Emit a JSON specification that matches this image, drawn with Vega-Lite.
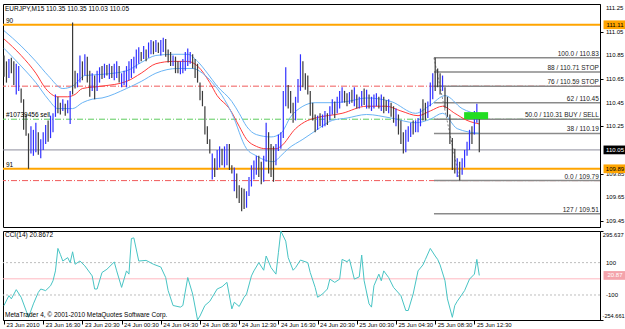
{
"$schema":"https://vega.github.io/schema/vega-lite/v6.json",
"background":"white",
"padding":{"left":1,"top":3,"right":0,"bottom":0},
"spacing":0,
"config":{
 "view":{"stroke":"#000","strokeWidth":1},
 "axis":{"labelFont":"Liberation Sans","labelFontSize":6,"labelColor":"#000","domainColor":"#000","tickColor":"#000","grid":false,"labelOverlap":false,"tickSize":3,"labelPadding":1},
 "text":{"font":"Liberation Sans","fontSize":7}
},
"datasets":{
 "bars":[
{"i":0,"h":110.85,"l":110.67,"u":0},{"i":1,"h":110.80,"l":110.62,"u":0},{"i":2,"h":110.82,"l":110.66,"u":1},{"i":3,"h":110.83,"l":110.70,"u":0},{"i":4,"h":110.80,"l":110.60,"u":0},
{"i":5,"h":110.78,"l":110.52,"u":1},{"i":6,"h":110.76,"l":110.55,"u":1},{"i":7,"h":110.57,"l":110.45,"u":0},{"i":8,"h":110.48,"l":110.22,"u":0},{"i":9,"h":110.35,"l":110.17,"u":0},
{"i":10,"h":110.19,"l":109.89,"u":0},{"i":11,"h":110.25,"l":110.02,"u":1},{"i":12,"h":110.22,"l":110.00,"u":1},{"i":13,"h":110.28,"l":110.03,"u":1},{"i":14,"h":110.20,"l":110.01,"u":0},
{"i":15,"h":110.14,"l":109.98,"u":1},{"i":16,"h":110.20,"l":110.05,"u":1},{"i":17,"h":110.26,"l":110.10,"u":1},{"i":18,"h":110.30,"l":110.12,"u":0},{"i":19,"h":110.34,"l":110.15,"u":1},
{"i":20,"h":110.36,"l":110.20,"u":1},{"i":21,"h":110.52,"l":110.33,"u":1},{"i":22,"h":110.50,"l":110.36,"u":0},{"i":23,"h":110.45,"l":110.35,"u":0},{"i":24,"h":110.48,"l":110.38,"u":1},
{"i":25,"h":110.44,"l":110.34,"u":0},{"i":26,"h":110.47,"l":110.36,"u":1},{"i":27,"h":110.55,"l":110.27,"u":1},{"i":28,"h":111.13,"l":110.52,"u":0},{"i":29,"h":110.72,"l":110.57,"u":0},
{"i":30,"h":110.70,"l":110.58,"u":1},{"i":31,"h":110.85,"l":110.62,"u":1},{"i":32,"h":110.80,"l":110.64,"u":0},{"i":33,"h":110.86,"l":110.68,"u":1},{"i":34,"h":110.84,"l":110.62,"u":0},
{"i":35,"h":110.72,"l":110.50,"u":0},{"i":36,"h":110.70,"l":110.55,"u":1},{"i":37,"h":110.68,"l":110.48,"u":0},{"i":38,"h":110.72,"l":110.55,"u":1},{"i":39,"h":110.75,"l":110.62,"u":1},
{"i":40,"h":110.76,"l":110.65,"u":0},{"i":41,"h":110.78,"l":110.66,"u":1},{"i":42,"h":110.77,"l":110.68,"u":0},{"i":43,"h":110.78,"l":110.65,"u":1},{"i":44,"h":110.76,"l":110.66,"u":0},
{"i":45,"h":110.78,"l":110.64,"u":1},{"i":46,"h":110.80,"l":110.66,"u":1},{"i":47,"h":110.76,"l":110.62,"u":0},{"i":48,"h":110.70,"l":110.58,"u":1},{"i":49,"h":110.72,"l":110.60,"u":1},
{"i":50,"h":110.76,"l":110.58,"u":1},{"i":51,"h":110.80,"l":110.64,"u":1},{"i":52,"h":110.82,"l":110.66,"u":1},{"i":53,"h":110.84,"l":110.70,"u":1},{"i":54,"h":110.90,"l":110.74,"u":1},
{"i":55,"h":110.92,"l":110.78,"u":1},{"i":56,"h":110.88,"l":110.80,"u":0},{"i":57,"h":110.93,"l":110.82,"u":1},{"i":58,"h":110.90,"l":110.80,"u":0},{"i":59,"h":110.96,"l":110.83,"u":1},
{"i":60,"h":110.98,"l":110.86,"u":1},{"i":61,"h":110.97,"l":110.86,"u":0},{"i":62,"h":110.98,"l":110.88,"u":1},{"i":63,"h":110.96,"l":110.87,"u":0},{"i":64,"h":110.98,"l":110.85,"u":1},
{"i":65,"h":111.00,"l":110.88,"u":1},{"i":66,"h":110.99,"l":110.84,"u":0},{"i":67,"h":110.90,"l":110.79,"u":0},{"i":68,"h":110.88,"l":110.76,"u":0},{"i":69,"h":110.85,"l":110.76,"u":1},
{"i":70,"h":110.84,"l":110.70,"u":0},{"i":71,"h":110.80,"l":110.70,"u":0},{"i":72,"h":110.80,"l":110.69,"u":1},{"i":73,"h":110.82,"l":110.70,"u":1},{"i":74,"h":110.88,"l":110.72,"u":1},
{"i":75,"h":110.91,"l":110.76,"u":1},{"i":76,"h":110.88,"l":110.78,"u":1},{"i":77,"h":110.86,"l":110.74,"u":0},{"i":78,"h":110.82,"l":110.66,"u":0},{"i":79,"h":110.78,"l":110.62,"u":0},
{"i":80,"h":110.62,"l":110.47,"u":0},{"i":81,"h":110.55,"l":110.42,"u":0},{"i":82,"h":110.42,"l":110.18,"u":0},{"i":83,"h":110.25,"l":110.10,"u":0},{"i":84,"h":110.14,"l":110.02,"u":0},
{"i":85,"h":110.02,"l":109.80,"u":1},{"i":86,"h":109.98,"l":109.82,"u":0},{"i":87,"h":110.05,"l":109.88,"u":1},{"i":88,"h":110.08,"l":109.90,"u":1},{"i":89,"h":110.06,"l":109.92,"u":0},
{"i":90,"h":110.08,"l":109.90,"u":1},{"i":91,"h":110.10,"l":109.92,"u":1},{"i":92,"h":110.10,"l":109.88,"u":0},{"i":93,"h":109.92,"l":109.85,"u":0},{"i":94,"h":109.90,"l":109.70,"u":1},
{"i":95,"h":109.85,"l":109.64,"u":0},{"i":96,"h":109.75,"l":109.60,"u":0},{"i":97,"h":109.73,"l":109.53,"u":0},{"i":98,"h":109.72,"l":109.55,"u":0},{"i":99,"h":109.70,"l":109.56,"u":1},
{"i":100,"h":109.82,"l":109.66,"u":1},{"i":101,"h":109.92,"l":109.74,"u":1},{"i":102,"h":109.96,"l":109.80,"u":1},{"i":103,"h":110.00,"l":109.84,"u":1},{"i":104,"h":110.00,"l":109.82,"u":0},
{"i":105,"h":109.95,"l":109.76,"u":0},{"i":106,"h":110.00,"l":109.78,"u":1},{"i":107,"h":110.28,"l":109.95,"u":1},{"i":108,"h":110.20,"l":109.85,"u":0},{"i":109,"h":110.10,"l":109.82,"u":0},
{"i":110,"h":110.08,"l":109.78,"u":0},{"i":111,"h":110.10,"l":109.92,"u":1},{"i":112,"h":110.18,"l":110.04,"u":1},{"i":113,"h":110.20,"l":110.06,"u":1},{"i":114,"h":110.55,"l":110.15,"u":1},
{"i":115,"h":110.75,"l":110.42,"u":1},{"i":116,"h":110.60,"l":110.40,"u":0},{"i":117,"h":110.55,"l":110.36,"u":0},{"i":118,"h":110.45,"l":110.28,"u":0},{"i":119,"h":110.50,"l":110.30,"u":1},
{"i":120,"h":110.65,"l":110.45,"u":1},{"i":121,"h":110.86,"l":110.55,"u":1},{"i":122,"h":110.80,"l":110.58,"u":0},{"i":123,"h":110.70,"l":110.56,"u":0},{"i":124,"h":110.68,"l":110.52,"u":0},
{"i":125,"h":110.55,"l":110.34,"u":0},{"i":126,"h":110.45,"l":110.30,"u":0},{"i":127,"h":110.35,"l":110.20,"u":0},{"i":128,"h":110.34,"l":110.22,"u":1},{"i":129,"h":110.36,"l":110.25,"u":0},
{"i":130,"h":110.35,"l":110.24,"u":1},{"i":131,"h":110.38,"l":110.25,"u":1},{"i":132,"h":110.36,"l":110.26,"u":0},{"i":133,"h":110.42,"l":110.30,"u":1},{"i":134,"h":110.48,"l":110.35,"u":1},
{"i":135,"h":110.46,"l":110.32,"u":0},{"i":136,"h":110.50,"l":110.36,"u":1},{"i":137,"h":110.55,"l":110.40,"u":1},{"i":138,"h":110.58,"l":110.45,"u":1},{"i":139,"h":110.55,"l":110.45,"u":0},
{"i":140,"h":110.53,"l":110.42,"u":0},{"i":141,"h":110.54,"l":110.44,"u":1},{"i":142,"h":110.56,"l":110.45,"u":0},{"i":143,"h":110.58,"l":110.42,"u":1},{"i":144,"h":110.52,"l":110.40,"u":0},
{"i":145,"h":110.50,"l":110.40,"u":1},{"i":146,"h":110.55,"l":110.42,"u":1},{"i":147,"h":110.57,"l":110.43,"u":0},{"i":148,"h":110.56,"l":110.40,"u":1},{"i":149,"h":110.52,"l":110.40,"u":0},
{"i":150,"h":110.50,"l":110.38,"u":1},{"i":151,"h":110.52,"l":110.40,"u":1},{"i":152,"h":110.53,"l":110.42,"u":1},{"i":153,"h":110.50,"l":110.40,"u":0},{"i":154,"h":110.52,"l":110.38,"u":1},
{"i":155,"h":110.50,"l":110.36,"u":0},{"i":156,"h":110.47,"l":110.38,"u":0},{"i":157,"h":110.48,"l":110.36,"u":1},{"i":158,"h":110.45,"l":110.33,"u":0},{"i":159,"h":110.42,"l":110.28,"u":0},
{"i":160,"h":110.40,"l":110.25,"u":1},{"i":161,"h":110.35,"l":110.18,"u":0},{"i":162,"h":110.30,"l":110.10,"u":0},{"i":163,"h":110.20,"l":110.02,"u":0},{"i":164,"h":110.22,"l":110.03,"u":1},
{"i":165,"h":110.25,"l":110.12,"u":1},{"i":166,"h":110.28,"l":110.16,"u":1},{"i":167,"h":110.30,"l":110.18,"u":0},{"i":168,"h":110.30,"l":110.20,"u":1},{"i":169,"h":110.32,"l":110.20,"u":1},
{"i":170,"h":110.40,"l":110.25,"u":1},{"i":171,"h":110.48,"l":110.30,"u":0},{"i":172,"h":110.45,"l":110.30,"u":0},{"i":173,"h":110.46,"l":110.32,"u":1},{"i":174,"h":110.62,"l":110.42,"u":1},
{"i":175,"h":110.70,"l":110.48,"u":1},{"i":176,"h":110.83,"l":110.55,"u":0},{"i":177,"h":110.74,"l":110.58,"u":0},{"i":178,"h":110.70,"l":110.52,"u":0},{"i":179,"h":110.68,"l":110.55,"u":1},
{"i":180,"h":110.58,"l":110.40,"u":0},{"i":181,"h":110.50,"l":110.33,"u":0},{"i":182,"h":110.35,"l":110.10,"u":0},{"i":183,"h":110.15,"l":109.88,"u":0},{"i":184,"h":110.06,"l":109.85,"u":0},
{"i":185,"h":109.98,"l":109.82,"u":1},{"i":186,"h":109.95,"l":109.79,"u":0},{"i":187,"h":109.98,"l":109.84,"u":1},{"i":188,"h":110.05,"l":109.90,"u":1},{"i":189,"h":110.12,"l":110.00,"u":1},
{"i":190,"h":110.22,"l":110.05,"u":1},{"i":191,"h":110.25,"l":110.10,"u":0},{"i":192,"h":110.38,"l":110.18,"u":1},{"i":193,"h":110.44,"l":110.28,"u":1},{"i":194,"h":110.35,"l":110.03,"u":0}
 ],
 "ma":[
{"s":"mid","i":0,"p":110.99},{"s":"mid","i":7,"p":110.85},{"s":"mid","i":13,"p":110.70},{"s":"mid","i":17,"p":110.57},{"s":"mid","i":22,"p":110.50},{"s":"mid","i":26,"p":110.50},{"s":"mid","i":29,"p":110.52},{"s":"mid","i":32,"p":110.57},{"s":"mid","i":40,"p":110.59},{"s":"mid","i":50,"p":110.63},{"s":"mid","i":56,"p":110.70},{"s":"mid","i":62,"p":110.78},{"s":"mid","i":69,"p":110.80},{"s":"mid","i":75,"p":110.80},{"s":"mid","i":79,"p":110.76},{"s":"mid","i":84,"p":110.62},{"s":"mid","i":87,"p":110.51},{"s":"mid","i":92,"p":110.40},{"s":"mid","i":96,"p":110.25},{"s":"mid","i":99,"p":110.14},{"s":"mid","i":103,"p":110.08},{"s":"mid","i":107,"p":110.06},{"s":"mid","i":111,"p":110.06},{"s":"mid","i":113,"p":110.08},{"s":"mid","i":119,"p":110.23},{"s":"mid","i":124,"p":110.30},{"s":"mid","i":127,"p":110.32},{"s":"mid","i":138,"p":110.36},{"s":"mid","i":148,"p":110.42},{"s":"mid","i":156,"p":110.42},{"s":"mid","i":162,"p":110.38},{"s":"mid","i":169,"p":110.34},{"s":"mid","i":174,"p":110.38},{"s":"mid","i":179,"p":110.42},{"s":"mid","i":184,"p":110.36},{"s":"mid","i":189,"p":110.30},{"s":"mid","i":194,"p":110.27},
{"s":"up","i":0,"p":111.06},{"s":"up","i":7,"p":110.93},{"s":"up","i":13,"p":110.80},{"s":"up","i":18,"p":110.68},{"s":"up","i":24,"p":110.57},{"s":"up","i":28,"p":110.59},{"s":"up","i":33,"p":110.68},{"s":"up","i":40,"p":110.69},{"s":"up","i":50,"p":110.72},{"s":"up","i":56,"p":110.79},{"s":"up","i":62,"p":110.85},{"s":"up","i":69,"p":110.86},{"s":"up","i":75,"p":110.86},{"s":"up","i":79,"p":110.80},{"s":"up","i":83,"p":110.70},{"s":"up","i":87,"p":110.59},{"s":"up","i":93,"p":110.46},{"s":"up","i":96,"p":110.36},{"s":"up","i":99,"p":110.25},{"s":"up","i":103,"p":110.18},{"s":"up","i":109,"p":110.16},{"s":"up","i":113,"p":110.19},{"s":"up","i":117,"p":110.33},{"s":"up","i":122,"p":110.42},{"s":"up","i":127,"p":110.45},{"s":"up","i":134,"p":110.45},{"s":"up","i":140,"p":110.46},{"s":"up","i":148,"p":110.49},{"s":"up","i":158,"p":110.46},{"s":"up","i":168,"p":110.36},{"s":"up","i":174,"p":110.43},{"s":"up","i":180,"p":110.51},{"s":"up","i":187,"p":110.40},{"s":"up","i":194,"p":110.35},
{"s":"lo","i":0,"p":110.91},{"s":"lo","i":7,"p":110.76},{"s":"lo","i":13,"p":110.62},{"s":"lo","i":18,"p":110.48},{"s":"lo","i":22,"p":110.40},{"s":"lo","i":28,"p":110.40},{"s":"lo","i":32,"p":110.45},{"s":"lo","i":36,"p":110.48},{"s":"lo","i":40,"p":110.49},{"s":"lo","i":50,"p":110.57},{"s":"lo","i":56,"p":110.63},{"s":"lo","i":62,"p":110.70},{"s":"lo","i":71,"p":110.74},{"s":"lo","i":77,"p":110.74},{"s":"lo","i":81,"p":110.70},{"s":"lo","i":85,"p":110.62},{"s":"lo","i":89,"p":110.51},{"s":"lo","i":93,"p":110.36},{"s":"lo","i":99,"p":110.06},{"s":"lo","i":103,"p":110.00},{"s":"lo","i":107,"p":109.96},{"s":"lo","i":110,"p":109.95},{"s":"lo","i":113,"p":110.00},{"s":"lo","i":116,"p":110.06},{"s":"lo","i":122,"p":110.14},{"s":"lo","i":127,"p":110.21},{"s":"lo","i":134,"p":110.30},{"s":"lo","i":140,"p":110.32},{"s":"lo","i":148,"p":110.35},{"s":"lo","i":158,"p":110.32},{"s":"lo","i":168,"p":110.28},{"s":"lo","i":174,"p":110.31},{"s":"lo","i":179,"p":110.36},{"s":"lo","i":185,"p":110.23},{"s":"lo","i":194,"p":110.19}
 ],
 "cci":[
{"i":0,"v":-165},{"i":2,"v":-104},{"i":3,"v":-124},{"i":5,"v":-67},{"i":7,"v":-114},{"i":9,"v":-196},{"i":10,"v":-238},{"i":12,"v":-155},{"i":14,"v":-84},{"i":15,"v":-63},{"i":17,"v":-73},{"i":19,"v":-43},{"i":20,"v":-12},{"i":21,"v":49},{"i":22,"v":188},{"i":23,"v":151},{"i":24,"v":110},{"i":26,"v":131},{"i":27,"v":100},{"i":28,"v":167},{"i":29,"v":90},{"i":31,"v":110},{"i":33,"v":80},{"i":36,"v":18},{"i":37,"v":-63},{"i":38,"v":-63},{"i":40,"v":39},{"i":42,"v":59},{"i":45,"v":104},{"i":46,"v":49},{"i":48,"v":-53},{"i":50,"v":49},{"i":51,"v":29},{"i":52,"v":249},{"i":53,"v":253},{"i":55,"v":110},{"i":58,"v":114},{"i":61,"v":90},{"i":64,"v":73},{"i":66,"v":8},{"i":67,"v":-73},{"i":69,"v":-165},{"i":72,"v":-175},{"i":73,"v":-165},{"i":75,"v":8},{"i":77,"v":-94},{"i":79,"v":-254},{"i":80,"v":-230},{"i":82,"v":-165},{"i":84,"v":-139},{"i":87,"v":-63},{"i":89,"v":-49},{"i":91,"v":-22},{"i":93,"v":-186},{"i":94,"v":-145},{"i":96,"v":-171},{"i":98,"v":-114},{"i":99,"v":-94},{"i":101,"v":18},{"i":102,"v":49},{"i":104,"v":100},{"i":106,"v":53},{"i":107,"v":141},{"i":109,"v":69},{"i":111,"v":29},{"i":112,"v":161},{"i":113,"v":295},{"i":115,"v":233},{"i":116,"v":131},{"i":118,"v":53},{"i":119,"v":69},{"i":121,"v":116},{"i":124,"v":100},{"i":125,"v":39},{"i":127,"v":-53},{"i":128,"v":-114},{"i":130,"v":-94},{"i":132,"v":-63},{"i":133,"v":-2},{"i":135,"v":-22},{"i":137,"v":-2},{"i":138,"v":120},{"i":140,"v":106},{"i":141,"v":120},{"i":143,"v":-2},{"i":145,"v":12},{"i":146,"v":147},{"i":147,"v":-12},{"i":149,"v":-155},{"i":150,"v":-175},{"i":151,"v":-43},{"i":153,"v":29},{"i":154,"v":-12},{"i":155,"v":49},{"i":157,"v":8},{"i":159,"v":-53},{"i":162,"v":-104},{"i":164,"v":-196},{"i":165,"v":-196},{"i":167,"v":-94},{"i":169,"v":49},{"i":171,"v":86},{"i":172,"v":120},{"i":174,"v":188},{"i":176,"v":141},{"i":177,"v":120},{"i":178,"v":86},{"i":180,"v":-12},{"i":181,"v":-124},{"i":183,"v":-238},{"i":184,"v":-165},{"i":185,"v":-139},{"i":188,"v":-73},{"i":190,"v":-2},{"i":192,"v":29},{"i":193,"v":120},{"i":194,"v":20.87}
 ],
 "levels":[
{"kind":"orange","p":111.11,"name":"90"},{"kind":"orange","p":109.89,"name":"91"},{"kind":"red","p":110.59,"name":""},{"kind":"red","p":109.79,"name":""},{"kind":"green","p":110.31,"name":"#10739456 sell"},{"kind":"bid","p":110.05,"name":""}
 ],
 "fib":[
{"p":110.83,"t":"100.0 / 110.83"},{"p":110.71,"t":"88 / 110.71 STOP"},{"p":110.59,"t":"76 / 110.59 STOP"},{"p":110.45,"t":"62 / 110.45"},{"p":110.31,"t":"50.0 / 110.31 BUY / SELL"},{"p":110.19,"t":"38 / 110.19"},{"p":109.79,"t":"0.0 / 109.79"},{"p":109.51,"t":"127 / 109.51"}
 ],
 "fibdiag":[{"i":175.5,"p":110.83},{"i":186,"p":109.79}],
 "tags":[{"t":"111.11","p":111.11,"kind":"orange"},{"t":"110.05","p":110.05,"kind":"bid"},{"t":"109.89","p":109.89,"kind":"orange"}],
 "pticks":[{"v":111.25},{"v":111.05},{"v":110.85},{"v":110.65},{"v":110.45},{"v":110.25},{"v":110.05},{"v":109.85},{"v":109.65},{"v":109.45}],
 "cticks":[{"v":295.637,"t":"295.637"},{"v":100,"t":"100"},{"v":-100,"t":"-100"},{"v":-254.661,"t":"-254.661"}],
 "ccilev":[{"v":100,"k":"dot"},{"v":-100,"k":"dot"},{"v":0,"k":"zero"}]
},
"vconcat":[
{
 "width":597,"height":223,
 "layer":[
  {"data":{"name":"levels"},"transform":[{"filter":"datum.kind=='bid'"}],"mark":{"type":"rule","color":"#8c8c9c","strokeWidth":1},
   "encoding":{"y":{"field":"p","type":"quantitative","title":null,"scale":{"domain":[109.397,111.286],"nice":false,"zero":false}}}},
  {"data":{"name":"levels"},"transform":[{"filter":"datum.kind=='red'"}],"mark":{"type":"rule","color":"#f05a5a","strokeWidth":1,"strokeDash":[6,2,1,2]},
   "encoding":{"y":{"field":"p","type":"quantitative","title":null,"scale":{"domain":[109.397,111.286],"nice":false,"zero":false}}}},
  {"data":{"name":"levels"},"transform":[{"filter":"datum.kind=='green'"}],"mark":{"type":"rule","color":"#5ccc5c","strokeWidth":1,"strokeDash":[6,2,1,2]},
   "encoding":{"y":{"field":"p","type":"quantitative","title":null,"scale":{"domain":[109.397,111.286],"nice":false,"zero":false}}}},
  {"data":{"name":"fib"},"mark":{"type":"rule","color":"#8a8a8a","strokeWidth":1.5},
   "encoding":{"x":{"datum":175.5,"type":"quantitative","scale":{"domain":[-0.41,243.27],"nice":false,"zero":false},"axis":null},"x2":{"datum":243.27},
    "y":{"field":"p","type":"quantitative","title":null,"scale":{"domain":[109.397,111.286],"nice":false,"zero":false}}}},
  {"data":{"name":"fibdiag"},"mark":{"type":"line","color":"#8a8a8a","strokeWidth":1,"strokeDash":[2,2]},
   "encoding":{"x":{"field":"i","type":"quantitative","scale":{"domain":[-0.41,243.27],"nice":false,"zero":false},"axis":null},
    "y":{"field":"p","type":"quantitative","title":null,"scale":{"domain":[109.397,111.286],"nice":false,"zero":false}}}},
  {"data":{"name":"ma"},"mark":{"type":"line","strokeWidth":1,"interpolate":"monotone"},
   "encoding":{"x":{"field":"i","type":"quantitative","scale":{"domain":[-0.41,243.27],"nice":false,"zero":false},"axis":null},
    "y":{"field":"p","type":"quantitative","title":null,"scale":{"domain":[109.397,111.286],"nice":false,"zero":false}},
    "color":{"field":"s","type":"nominal","scale":{"domain":["mid","up","lo"],"range":["#ff3c3c","#6ab4f5","#6ab4f5"]},"legend":null}}},
  {"data":{"name":"levels"},"transform":[{"filter":"datum.kind=='orange'"}],"mark":{"type":"rule","color":"#ffa500","strokeWidth":2},
   "encoding":{"y":{"field":"p","type":"quantitative","title":null,"scale":{"domain":[109.397,111.286],"nice":false,"zero":false}}}},
  {"data":{"name":"bars"},"mark":{"type":"rule","strokeWidth":1.2},
   "encoding":{"x":{"field":"i","type":"quantitative","scale":{"domain":[-0.41,243.27],"nice":false,"zero":false},"axis":null},
    "y":{"field":"l","type":"quantitative","title":null,"scale":{"domain":[109.397,111.286],"nice":false,"zero":false},
      "axis":{"orient":"right","title":null,"values":[111.25,111.05,110.85,110.65,110.45,110.25,110.05,109.85,109.65,109.45],"labels":false,"tickSize":3}},
    "y2":{"field":"h"},
    "color":{"condition":{"test":"datum.u==1","value":"#3030ff"},"value":"#3a3a3a"}}},
  {"data":{"values":[{"o":"green box"}]},"mark":{"type":"rect","color":"#22dd22"},
   "encoding":{"x":{"datum":187.8,"type":"quantitative","scale":{"domain":[-0.41,243.27],"nice":false,"zero":false},"axis":null},"x2":{"datum":197.6},
    "y":{"datum":110.31,"type":"quantitative","title":null,"scale":{"domain":[109.397,111.286],"nice":false,"zero":false}},"y2":{"datum":110.37}}},
  {"data":{"name":"fib"},"mark":{"type":"text","align":"right","baseline":"bottom","dy":-1,"color":"#222","fontSize":6.5},
   "encoding":{"x":{"datum":242.8,"type":"quantitative","scale":{"domain":[-0.41,243.27],"nice":false,"zero":false},"axis":null},
    "y":{"field":"p","type":"quantitative","title":null,"scale":{"domain":[109.397,111.286],"nice":false,"zero":false}},"text":{"field":"t"}}},
  {"data":{"name":"levels"},"transform":[{"filter":"datum.name!=''"}],"mark":{"type":"text","align":"left","baseline":"bottom","dy":-1,"color":"#000","fontSize":6.5},
   "encoding":{"x":{"datum":0.8,"type":"quantitative","scale":{"domain":[-0.41,243.27],"nice":false,"zero":false},"axis":null},
    "y":{"field":"p","type":"quantitative","title":null,"scale":{"domain":[109.397,111.286],"nice":false,"zero":false}},"text":{"field":"name"}}},
  {"data":{"values":[{"t":"EURJPY,M15  110.35 110.35 110.03 110.05"}]},"mark":{"type":"text","align":"left","baseline":"middle","color":"#000","fontSize":6.5},
   "encoding":{"x":{"datum":0.4,"type":"quantitative","scale":{"domain":[-0.41,243.27],"nice":false,"zero":false},"axis":null},
    "y":{"datum":111.245,"type":"quantitative","title":null,"scale":{"domain":[109.397,111.286],"nice":false,"zero":false}},"text":{"field":"t"}}},
  {"data":{"name":"pticks"},"mark":{"type":"text","align":"left","baseline":"middle","color":"#000","fontSize":6},
   "encoding":{"x":{"datum":245.7,"type":"quantitative","scale":{"domain":[-0.41,243.27],"nice":false,"zero":false},"axis":null},
    "y":{"field":"v","type":"quantitative","title":null,"scale":{"domain":[109.397,111.286],"nice":false,"zero":false}},"text":{"field":"v","type":"quantitative","format":".2f"}}},
  {"data":{"name":"tags"},"mark":{"type":"point","shape":"M-1,-0.38L1,-0.38L1,0.38L-1,0.38Z","size":529,"filled":true,"opacity":1,"strokeWidth":0},
   "encoding":{"x":{"datum":249.4,"type":"quantitative","scale":{"domain":[-0.41,243.27],"nice":false,"zero":false},"axis":null},
    "y":{"field":"p","type":"quantitative","title":null,"scale":{"domain":[109.397,111.286],"nice":false,"zero":false}},
    "color":{"condition":{"test":"datum.kind=='bid'","value":"#000"},"value":"#ffa500"}}},
  {"data":{"name":"tags"},"mark":{"type":"text","align":"center","baseline":"middle","fontSize":6},
   "encoding":{"x":{"datum":249.4,"type":"quantitative","scale":{"domain":[-0.41,243.27],"nice":false,"zero":false},"axis":null},
    "y":{"field":"p","type":"quantitative","title":null,"scale":{"domain":[109.397,111.286],"nice":false,"zero":false}},
    "text":{"field":"t"},"color":{"condition":{"test":"datum.kind=='bid'","value":"#fff"},"value":"#000"}}}
 ]
},
{
 "width":597,"height":89,
 "layer":[
  {"data":{"name":"ccilev"},"transform":[{"filter":"datum.k=='dot'"}],"mark":{"type":"rule","color":"#bdbdbd","strokeWidth":1,"strokeDash":[2,2]},
   "encoding":{"y":{"field":"v","type":"quantitative","title":null,"scale":{"domain":[-254.661,295.637],"nice":false,"zero":false}}}},
  {"data":{"name":"ccilev"},"transform":[{"filter":"datum.k=='zero'"}],"mark":{"type":"rule","color":"#ffb8c0","strokeWidth":1},
   "encoding":{"y":{"field":"v","type":"quantitative","title":null,"scale":{"domain":[-254.661,295.637],"nice":false,"zero":false}}}},
  {"data":{"name":"cci"},"mark":{"type":"line","color":"#48c4c4","strokeWidth":1},
   "encoding":{"x":{"field":"i","type":"quantitative","title":null,"scale":{"domain":[-0.41,243.27],"nice":false,"zero":false},
      "axis":{"orient":"bottom","title":null,"values":[0,16,32,48,64,80,96,112,128,144,160,176,192],"labelAlign":"left","labelBaseline":"top","tickSize":4,"labelPadding":-3,"labelOffset":2,"labelFlush":false,"labelOverlap":false,"labelFontSize":6,
       "labelExpr":"['23 Jun 2010','23 Jun 16:30','23 Jun 20:30','24 Jun 00:30','24 Jun 04:30','24 Jun 08:30','24 Jun 12:30','24 Jun 16:30','24 Jun 20:30','25 Jun 00:30','25 Jun 04:30','25 Jun 08:30','25 Jun 12:30'][round(datum.value/16)]"}},
    "y":{"field":"v","type":"quantitative","title":null,"scale":{"domain":[-254.661,295.637],"nice":false,"zero":false},
      "axis":{"orient":"right","title":null,"values":[295.637,100,-100,-254.661],"labels":false,"tickSize":3}}}},
  {"data":{"name":"cticks"},"transform":[{"filter":"datum.v>200"}],"mark":{"type":"text","align":"left","baseline":"top","dy":1,"color":"#000","fontSize":5.8},
   "encoding":{"x":{"datum":244.4,"type":"quantitative","title":null,"scale":{"domain":[-0.41,243.27],"nice":false,"zero":false}},
    "y":{"field":"v","type":"quantitative","title":null,"scale":{"domain":[-254.661,295.637],"nice":false,"zero":false}},"text":{"field":"t"}}},
  {"data":{"name":"cticks"},"transform":[{"filter":"abs(datum.v)<200"}],"mark":{"type":"text","align":"left","baseline":"middle","color":"#000","fontSize":6},
   "encoding":{"x":{"datum":245.7,"type":"quantitative","title":null,"scale":{"domain":[-0.41,243.27],"nice":false,"zero":false}},
    "y":{"field":"v","type":"quantitative","title":null,"scale":{"domain":[-254.661,295.637],"nice":false,"zero":false}},"text":{"field":"t"}}},
  {"data":{"name":"cticks"},"transform":[{"filter":"datum.v<-200"}],"mark":{"type":"text","align":"left","baseline":"bottom","dy":-1,"color":"#000","fontSize":5.6},
   "encoding":{"x":{"datum":244.3,"type":"quantitative","title":null,"scale":{"domain":[-0.41,243.27],"nice":false,"zero":false}},
    "y":{"field":"v","type":"quantitative","title":null,"scale":{"domain":[-254.661,295.637],"nice":false,"zero":false}},"text":{"field":"t"}}},
  {"data":{"values":[{"t":"CCI(14) 20.8672"}]},"mark":{"type":"text","align":"left","baseline":"middle","color":"#000","fontSize":6.5},
   "encoding":{"x":{"datum":0.4,"type":"quantitative","title":null,"scale":{"domain":[-0.41,243.27],"nice":false,"zero":false}},
    "y":{"datum":271,"type":"quantitative","title":null,"scale":{"domain":[-254.661,295.637],"nice":false,"zero":false}},"text":{"field":"t"}}},
  {"data":{"values":[{"t":"MetaTrader 4, © 2001-2010 MetaQuotes Software Corp."}]},"mark":{"type":"text","align":"left","baseline":"middle","color":"#000","fontSize":6.5},
   "encoding":{"x":{"datum":0.4,"type":"quantitative","title":null,"scale":{"domain":[-0.41,243.27],"nice":false,"zero":false}},
    "y":{"datum":-222,"type":"quantitative","title":null,"scale":{"domain":[-254.661,295.637],"nice":false,"zero":false}},"text":{"field":"t"}}},
  {"data":{"values":[{"t":"20.87","v":20.87}]},"mark":{"type":"point","shape":"M-1,-0.38L1,-0.38L1,0.38L-1,0.38Z","size":529,"filled":true,"opacity":1,"strokeWidth":0,"color":"#f4a3ab"},
   "encoding":{"x":{"datum":249.4,"type":"quantitative","title":null,"scale":{"domain":[-0.41,243.27],"nice":false,"zero":false}},
    "y":{"field":"v","type":"quantitative","title":null,"scale":{"domain":[-254.661,295.637],"nice":false,"zero":false}}}},
  {"data":{"values":[{"t":"20.87","v":20.87}]},"mark":{"type":"text","align":"center","baseline":"middle","color":"#fff","fontSize":6},
   "encoding":{"x":{"datum":249.4,"type":"quantitative","title":null,"scale":{"domain":[-0.41,243.27],"nice":false,"zero":false}},
    "y":{"field":"v","type":"quantitative","title":null,"scale":{"domain":[-254.661,295.637],"nice":false,"zero":false}},"text":{"field":"t"}}}
 ]
}
]
}
